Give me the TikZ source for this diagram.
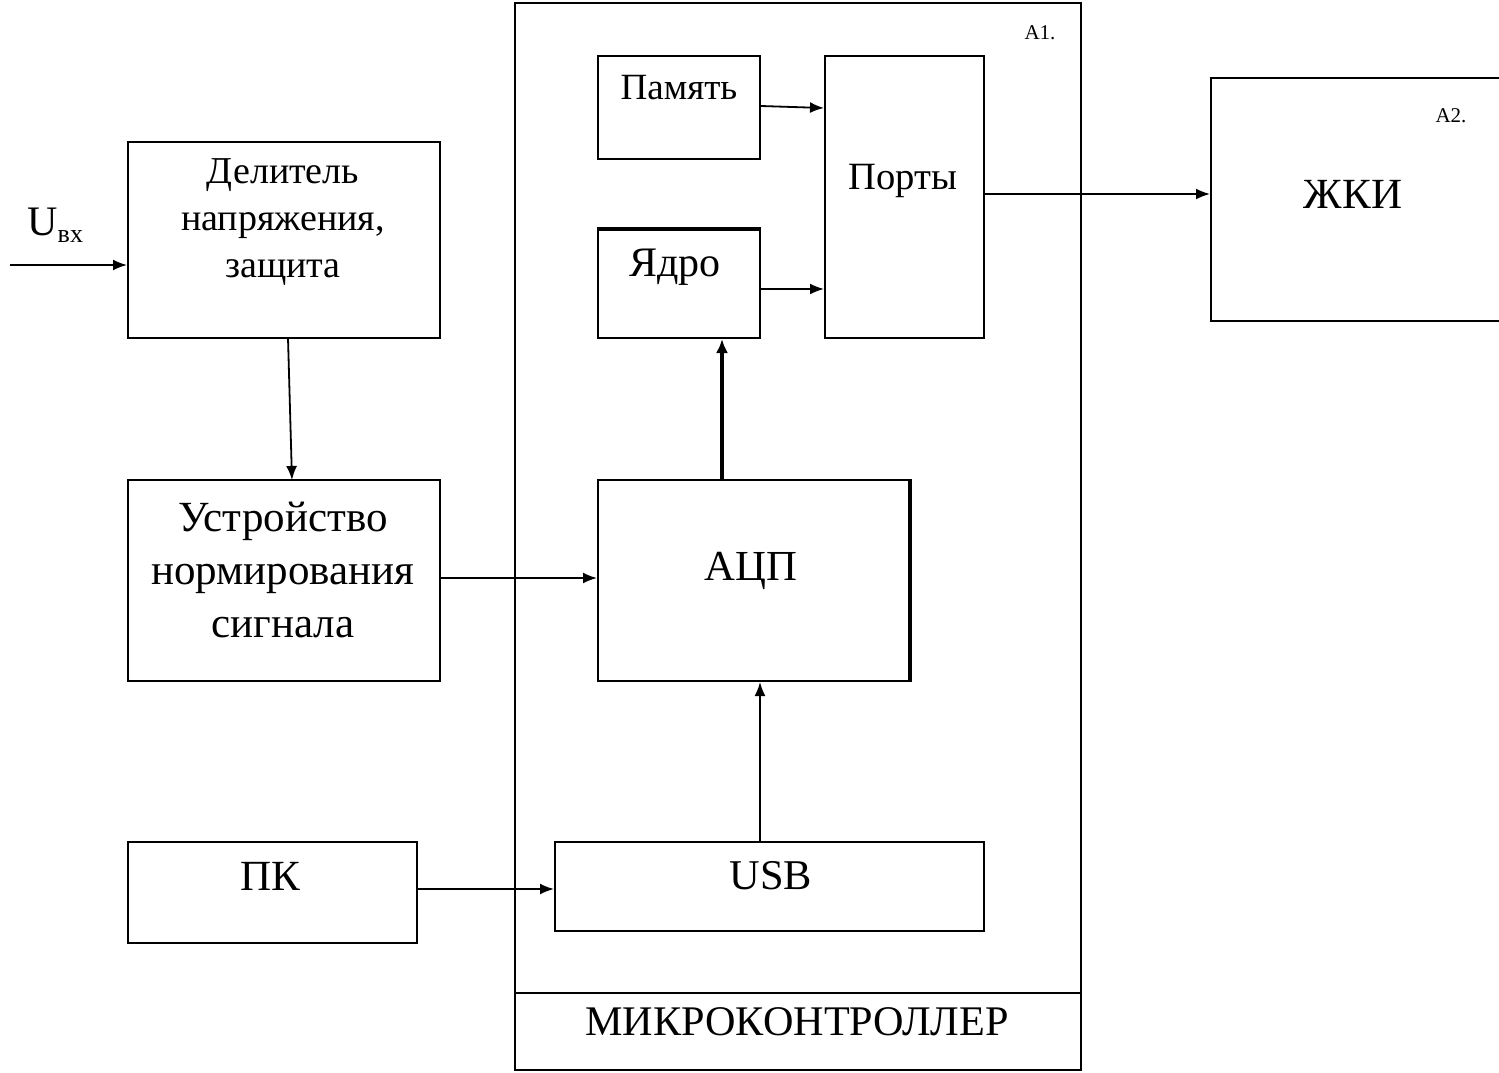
\documentclass[tikz,border=0pt]{standalone}
\usepackage{fontspec}
\setmainfont{Liberation Serif}
\usetikzlibrary{arrows.meta,fit}
\begin{document}
\begin{tikzpicture}[x=0.5pt,y=-0.5pt,
  box/.style={draw,line width=1pt,inner sep=0pt},
  lbl/.style={inner sep=0pt,align=center},
  arr/.style={line width=0.9pt,-{Latex[length=7pt,width=5.5pt]}},
  thickarr/.style={line width=2pt,-{Latex[length=7pt,width=6pt]}}]
\useasboundingbox (0,0) rectangle (1499,1072);
% microcontroller frame
\node[box,fit={(515,3)(1081,1070)}] (mcu) {};
\coordinate (divL) at (515,993);
\coordinate (divR) at (1081,993);
\draw[line width=1pt] (divL) -- (divR);
\node[lbl,font=\fontsize{21.1}{24}\selectfont] (mcul) at (797,1022) {МИКРОКОНТРОЛЛЕР};
\node[lbl,font=\fontsize{10.5}{12}\selectfont] (a1) at (1040,33) {А1.};
% boxes
\node[box,fit={(598,56)(760,159)}] (mem) {};
\node[lbl,font=\fontsize{18.5}{21}\selectfont] (meml) at (679,88) {Память};
\node[box,fit={(825,56)(984,338)}] (port) {};
\node[lbl,font=\fontsize{19.3}{22}\selectfont] (portl) at (903,181) {Порты};
\node[box,fit={(598,230)(760,338)}] (core) {};
\draw[line width=2.2pt] (core.north west) -- (core.north east);
\node[lbl,font=\fontsize{21}{24}\selectfont] (corel) at (675,267) {Ядро};
\node[box,fit={(598,480)(909,681)}] (adc) {};
\draw[line width=2.2pt] (adc.north east) -- (adc.south east);
\node[lbl,font=\fontsize{21.4}{24}\selectfont] (adcl) at (751,571) {АЦП};
\node[box,fit={(555,842)(984,931)}] (usb) {};
\node[lbl,font=\fontsize{21.2}{24}\selectfont] (usbl) at (771,876) {USB};
\node[box,fit={(128,142)(440,338)}] (div) {};
\node[lbl,font=\fontsize{19}{23.5}\selectfont] (divl) at (283,222) {Делитель\\напряжения,\\защита};
\node[box,fit={(128,480)(440,681)}] (norm) {};
\node[lbl,font=\fontsize{21.5}{26.5}\selectfont] (norml) at (283,570) {Устройство\\нормирования\\сигнала};
\node[box,fit={(128,842)(417,943)}] (pc) {};
\node[lbl,font=\fontsize{21.5}{24}\selectfont] (pcl) at (270,876) {ПК};
\node[box,fit={(1211,78)(1510,321)}] (lcd) {};
\node[lbl,font=\fontsize{21.5}{24}\selectfont] (lcdl) at (1353,194) {ЖКИ};
\node[lbl,font=\fontsize{10.5}{12}\selectfont] (a2) at (1451,116) {А2.};
% input
\coordinate (uin) at (10,265);
\node[lbl,font=\fontsize{21}{24}\selectfont,anchor=south west] (ul) at (27,243) {U\raisebox{-0.35ex}{\fontsize{13}{14}\selectfont вх}};
% connectors
\draw[arr] (uin) -- (div.west |- uin);
\draw[arr] (288,338) -- (292,480);
\draw[arr] (norm.east |- 0,578) -- (adc.west |- 0,578);
\draw[arr] (pc.east |- 0,889) -- (usb.west |- 0,889);
\draw[arr] (usb.north -| 760,0) -- (adc.south -| 760,0);
\draw[thickarr] (adc.north -| 722,0) -- (core.south -| 722,0);
\draw[arr] (mem.east |- 0,106) -- (port.west |- 0,108);
\draw[arr] (core.east |- 0,289) -- (port.west |- 0,289);
\draw[arr] (port.east |- 0,194) -- (lcd.west |- 0,194);
\end{tikzpicture}
\end{document}
